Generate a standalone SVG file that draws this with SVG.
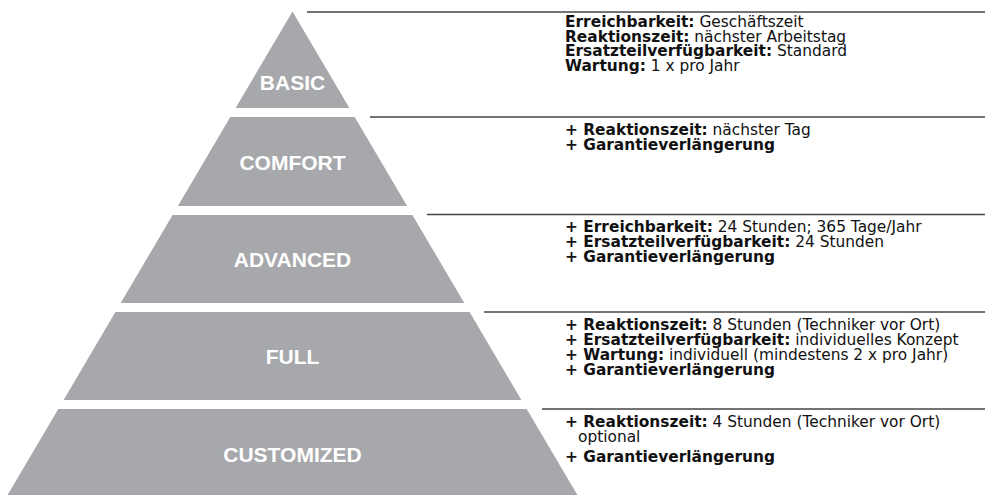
<svg xmlns="http://www.w3.org/2000/svg" width="985" height="495" viewBox="0 0 985 495">
<style>
.tier{fill:#a7a8ab;}
.lbl{font-family:"Liberation Sans",Arial,sans-serif;font-weight:bold;font-size:21px;fill:#ffffff;text-anchor:middle;}
.rule{stroke:#444444;stroke-width:1.3;fill:none;}
.txt{font-family:"DejaVu Sans","Liberation Sans",sans-serif;font-size:15.4px;fill:#111111;}
.b{font-weight:bold;}
</style>
<rect width="985" height="495" fill="#ffffff"/>
<g id="basic">
<polygon class="tier" points="292.5,11.5 349.4,108 235.6,108"/>
<text class="lbl" x="292.5" y="90">BASIC</text>
</g>
<g id="comfort">
<polygon class="tier" points="230.3,117 354.7,117 407.1,206 177.9,206"/>
<text class="lbl" x="292.5" y="170">COMFORT</text>
</g>
<g id="advanced">
<polygon class="tier" points="172.6,215 412.4,215 464.3,303 120.7,303"/>
<text class="lbl" x="292.5" y="266.5">ADVANCED</text>
</g>
<g id="full">
<polygon class="tier" points="115.4,312 469.6,312 521.4,400 63.6,400"/>
<text class="lbl" x="292.5" y="363.5">FULL</text>
</g>
<g id="customized">
<polygon class="tier" points="58.3,409 526.7,409 578,496 7,496"/>
<text class="lbl" x="292.5" y="462">CUSTOMIZED</text>
</g>
<g id="connectors">
<line class="rule" x1="307" y1="12" x2="985" y2="12"/>
<line class="rule" x1="370" y1="117" x2="985" y2="117"/>
<line class="rule" x1="427" y1="214.5" x2="985" y2="214.5"/>
<line class="rule" x1="484" y1="312" x2="985" y2="312"/>
<line class="rule" x1="542" y1="409" x2="985" y2="409"/>
</g>
<g id="basic-text" class="txt">
<text x="565" y="27"><tspan class="b">Erreichbarkeit:</tspan> Geschäftszeit</text>
<text x="565" y="41.5"><tspan class="b">Reaktionszeit:</tspan> nächster Arbeitstag</text>
<text x="565" y="56"><tspan class="b">Ersatzteilverfügbarkeit:</tspan> Standard</text>
<text x="565" y="70.5"><tspan class="b">Wartung:</tspan> 1 x pro Jahr</text>
</g>
<g id="comfort-text" class="txt">
<text x="565" y="135"><tspan class="b">+ Reaktionszeit:</tspan> nächster Tag</text>
<text x="565" y="150"><tspan class="b">+ Garantieverlängerung</tspan></text>
</g>
<g id="advanced-text" class="txt">
<text x="565" y="232"><tspan class="b">+ Erreichbarkeit:</tspan> 24 Stunden; 365 Tage/Jahr</text>
<text x="565" y="247"><tspan class="b">+ Ersatzteilverfügbarkeit:</tspan> 24 Stunden</text>
<text x="565" y="262"><tspan class="b">+ Garantieverlängerung</tspan></text>
</g>
<g id="full-text" class="txt">
<text x="565" y="330"><tspan class="b">+ Reaktionszeit:</tspan> 8 Stunden (Techniker vor Ort)</text>
<text x="565" y="345"><tspan class="b">+ Ersatzteilverfügbarkeit:</tspan> individuelles Konzept</text>
<text x="565" y="360"><tspan class="b">+ Wartung:</tspan> individuell (mindestens 2 x pro Jahr)</text>
<text x="565" y="375"><tspan class="b">+ Garantieverlängerung</tspan></text>
</g>
<g id="customized-text" class="txt">
<text x="565" y="427"><tspan class="b">+ Reaktionszeit:</tspan> 4 Stunden (Techniker vor Ort)</text>
<text x="578" y="442">optional</text>
<text x="565" y="462"><tspan class="b">+ Garantieverlängerung</tspan></text>
</g>
</svg>
